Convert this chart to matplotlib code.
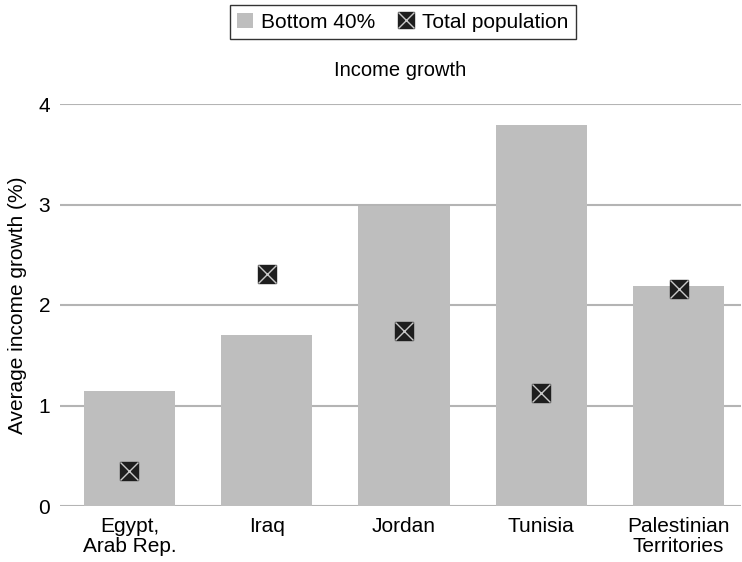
import matplotlib
matplotlib.use("Agg")
import matplotlib.pyplot as plt
from matplotlib.patches import Patch
from matplotlib.lines import Line2D

plt.rcParams['font.family'] = ['Liberation Sans', 'DejaVu Sans']

countries = ["Egypt,\nArab Rep.", "Iraq", "Jordan", "Tunisia", "Palestinian\nTerritories"]
bottom40 = [1.14, 1.70, 2.99, 3.79, 2.19]
total_pop = [0.35, 2.31, 1.74, 1.12, 2.16]
yticks = [0, 1, 2, 3, 4]

BAR_COLOR = "#bebebe"
GRID_COLOR = "#b4b4b4"
MARK_FACE = "#1e1e1e"
MARK_X = "#c8c8c8"
FS = 15

fig = plt.figure(figsize=(7.42, 5.62), dpi=100)
ax = fig.add_axes([60 / 742, 1 - 506 / 562, 681 / 742, (506 - 104) / 562])

x = list(range(len(countries)))
ax.bar(x, bottom40, width=0.663, color=BAR_COLOR, zorder=2)
ax.plot(x, total_pop, linestyle="none", marker="s", markersize=13.5,
        markerfacecolor=MARK_FACE, markeredgecolor=MARK_FACE, zorder=3)
ax.plot(x, total_pop, linestyle="none", marker="x", markersize=13.5,
        markeredgecolor=MARK_X, markeredgewidth=1.0, zorder=4)

ax.set_xlim(-0.506, 4.455)
ax.set_ylim(0, 4)
ax.set_yticks(yticks)
ax.set_yticklabels([str(v) for v in yticks])
ax.set_xticks(x)
ax.set_xticklabels(countries, linespacing=1.05)
ax.yaxis.grid(True, color=GRID_COLOR, linewidth=1.5, zorder=0)
ax.set_axisbelow(True)
for s in ax.spines.values():
    s.set_visible(False)
ax.tick_params(axis="both", length=0, labelsize=FS, colors="black")
ax.tick_params(axis="y", pad=7)
ax.tick_params(axis="x", pad=8)
ax.set_ylabel("Average income growth (%)", fontsize=FS, labelpad=8)
ax.set_title("Income growth", fontsize=14.5, pad=20)

handles = [
    Patch(facecolor=BAR_COLOR, edgecolor="none", label="Bottom 40%"),
    (Line2D([], [], linestyle="none", marker="s", markersize=11,
            markerfacecolor=MARK_FACE, markeredgecolor=MARK_FACE),
     Line2D([], [], linestyle="none", marker="x", markersize=11,
            markeredgecolor=MARK_X, markeredgewidth=1.0)),
]
leg = fig.legend(handles, ["Bottom 40%", "Total population"], loc="center",
                 bbox_to_anchor=(403 / 742, 1 - 22 / 562), ncol=2, fontsize=FS,
                 frameon=True, fancybox=False, edgecolor="black",
                 handlelength=0.75, handleheight=0.75, handletextpad=0.4,
                 columnspacing=1.1, borderpad=0.35)
leg.get_frame().set_linewidth(1.0)

fig.savefig("out.png", dpi=100)
